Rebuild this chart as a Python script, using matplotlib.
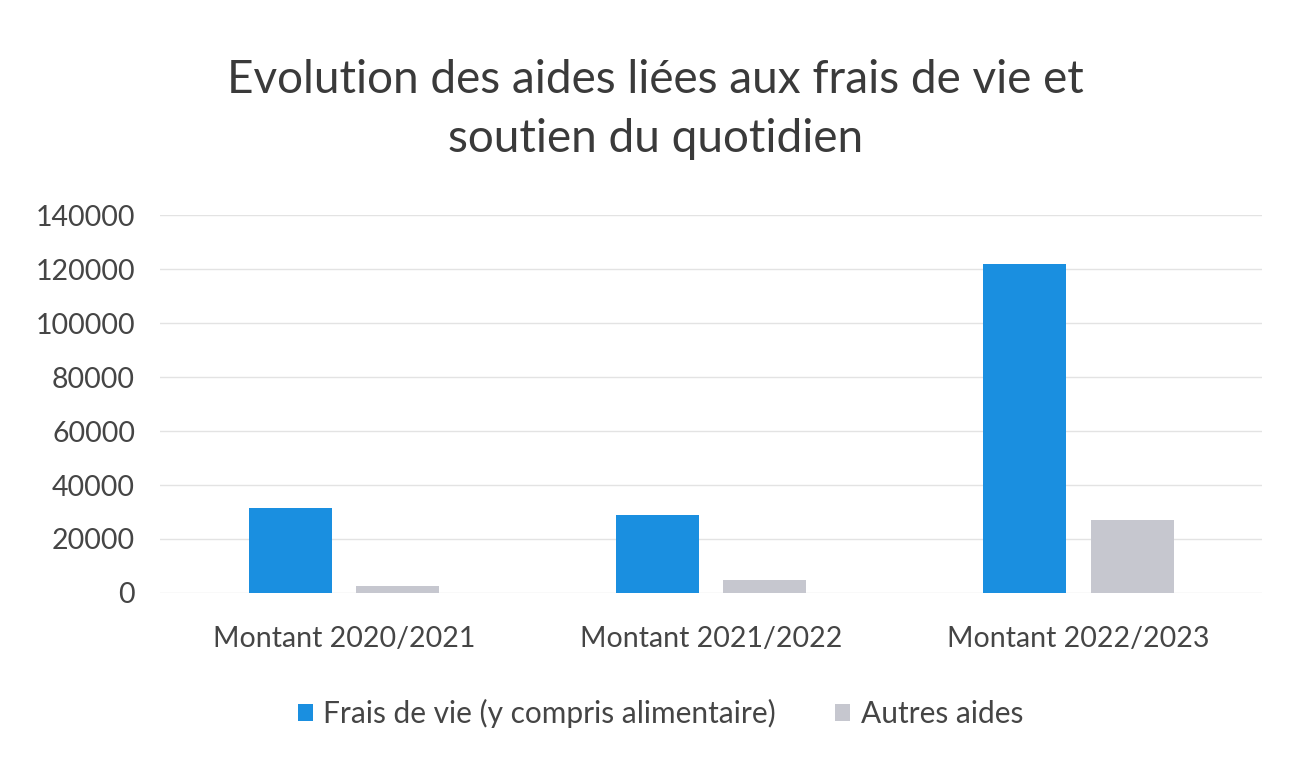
import numpy as np
import matplotlib.pyplot as plt

plt.rcParams['font.family'] = ['Lato', 'DejaVu Sans']

# data
categories = ['Montant 2020/2021', 'Montant 2021/2022', 'Montant 2022/2023']
frais_vie = [31500, 29000, 122000]
autres_aides = [2500, 4800, 27000]
series_names = ['Frais de vie (y compris alimentaire)', 'Autres aides']

txt = '#454545'
blue = '#1a8fe0'
grey = '#c6c7cf'

fig = plt.figure(figsize=(12.95, 7.62), dpi=100)
ax = fig.add_axes([0.1236, 0.2218, 0.851, 0.496])

x = np.arange(len(categories))
w = 0.226
off = 0.146
ax.bar(x - off, frais_vie, w, color=blue, label=series_names[0], zorder=3)
ax.bar(x + off, autres_aides, w, color=grey, label=series_names[1], zorder=3)

ax.set_xlim(-0.5, 2.5)
ax.set_ylim(0, 140000)
ax.set_yticks(range(0, 140001, 20000))
ax.set_xticks(x)
ax.set_xticklabels(categories)
ax.grid(axis='y', color='#e3e3e3', linewidth=1, zorder=0)
for s in ax.spines.values():
    s.set_visible(False)
ax.tick_params(length=0, labelsize=20.5, colors=txt)
ax.tick_params(axis='y', pad=18)
ax.tick_params(axis='x', pad=24)

fig.suptitle('Evolution des aides liées aux frais de vie et\nsoutien du quotidien',
             x=0.506, y=0.922, fontsize=33, color='#3a3a3a', linespacing=1.5)

leg = fig.legend(loc='center', bbox_to_anchor=(0.51, 0.064), ncol=2, frameon=False,
                 fontsize=21.5, handlelength=0.5, handleheight=0.5, columnspacing=2.0,
                 handletextpad=0.35)
for t in leg.get_texts():
    t.set_color(txt)

fig.savefig('out.png', dpi=100)
